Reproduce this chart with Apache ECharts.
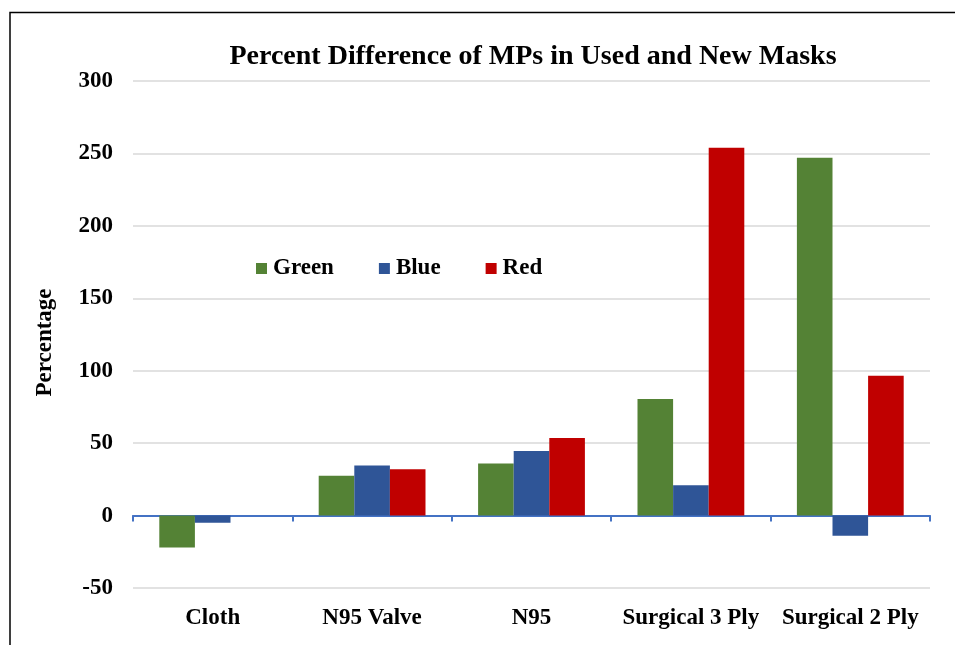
<!DOCTYPE html>
<html>
<head>
<meta charset="utf-8">
<script src="https://cdn.jsdelivr.net/npm/echarts@6/dist/echarts.min.js"></script>
<style>
  html, body { margin: 0; padding: 0; background: #ffffff; }
  #chart { width: 955px; height: 645px; }
</style>
</head>
<body>
<div id="chart"></div>
<script>
// Mask types along the x axis
const categories = ['Cloth', 'N95 Valve', 'N95', 'Surgical 3 Ply', 'Surgical 2 Ply'];

// Percent difference of MPs (used vs new) per colour
const greenValues = [-22, 27.5, 36, 80.5, 247];
const blueValues = [-5, 34.5, 44.5, 21, -14];
const redValues = [null, 32, 53.5, 254, 96.5];

// Value axis ticks
const yTicks = [-50, 0, 50, 100, 150, 200, 250, 300];

const serif = '"Liberation Serif", "Times New Roman", "DejaVu Serif", serif';
const colors = { green: '#548235', blue: '#2F5597', red: '#C00000' };

const chart = echarts.init(document.getElementById('chart'), null, { renderer: 'canvas' });

const barSeries = (name, data, color) => ({
  name: name,
  type: 'bar',
  xAxisIndex: 0,
  data: data,
  barGap: '0%',
  barCategoryGap: '33%',
  itemStyle: { color: color },
  emphasis: { disabled: true }
});

chart.setOption({
  animation: false,
  backgroundColor: '#ffffff',
  title: {
    text: 'Percent Difference of MPs in Used and New Masks',
    left: 528,
    top: 38,
    textAlign: 'center',
    textStyle: { fontFamily: serif, fontWeight: 'bold', fontSize: 28, color: '#000000' }
  },
  legend: {
    data: ['Green', 'Blue', 'Red'],
    left: 251,
    top: 252,
    icon: 'rect',
    itemWidth: 11,
    itemHeight: 11,
    itemGap: 45,
    textStyle: { fontFamily: serif, fontWeight: 'bold', fontSize: 23, color: '#000000', padding: [0, 0, 0, 1] }
  },
  grid: { left: 133, right: 25, top: 81, bottom: 57, containLabel: false },
  xAxis: [
    {
      type: 'category',
      data: categories,
      position: 'bottom',
      axisLine: { show: false, onZero: false },
      axisTick: { show: false },
      axisLabel: {
        interval: 0,
        margin: 19,
        fontFamily: serif, fontWeight: 'bold', fontSize: 23, color: '#000000'
      }
    },
    {
      // Zero baseline with category separators
      type: 'category',
      data: categories,
      position: 'top',
      axisLine: { show: true, onZero: true, lineStyle: { color: '#4472C4', width: 2 } },
      axisTick: { show: true, inside: true, length: 6, lineStyle: { color: '#4472C4', width: 2 } },
      axisLabel: { show: false }
    }
  ],
  yAxis: {
    type: 'value',
    min: yTicks[0],
    max: yTicks[yTicks.length - 1],
    interval: yTicks[1] - yTicks[0],
    name: 'Percentage',
    nameLocation: 'middle',
    nameGap: 76,
    nameTextStyle: { fontFamily: serif, fontWeight: 'bold', fontSize: 23, color: '#000000', padding: [0, 16, 0, 0] },
    axisLine: { show: false },
    axisTick: { show: false },
    splitLine: { show: true, lineStyle: { color: '#d9d9d9', width: 1.5 } },
    axisLabel: { margin: 20, fontFamily: serif, fontWeight: 'bold', fontSize: 23, color: '#000000' }
  },
  series: [
    barSeries('Green', greenValues, colors.green),
    barSeries('Blue', blueValues, colors.blue),
    barSeries('Red', redValues, colors.red)
  ],
  graphic: [
    {
      type: 'rect',
      shape: { x: 10, y: 12.5, width: 1000, height: 700 },
      style: { fill: 'none', stroke: '#000000', lineWidth: 1.5 },
      silent: true,
      z: 100
    }
  ]
});
</script>
</body>
</html>
